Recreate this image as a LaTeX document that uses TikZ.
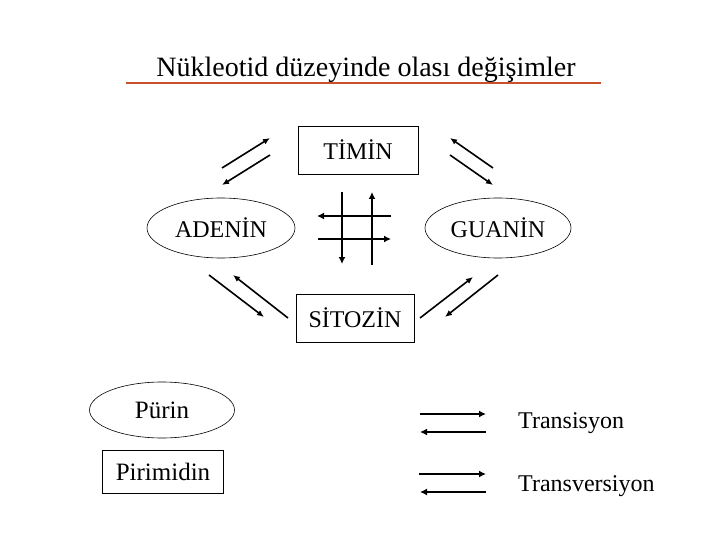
\documentclass[tikz,border=0pt]{standalone}
\usepackage{fontspec}
\setmainfont{Liberation Serif}
\usetikzlibrary{arrows.meta,shapes.geometric}
\definecolor{ruleline}{HTML}{C8502A}

\begin{document}
\begin{tikzpicture}[x=1pt, y=-1pt, font=\fontsize{24}{27}\selectfont,
          box/.style={draw, line width=0.8pt, inner sep=0pt, minimum width=120, minimum height=48},
          oval/.style={draw, ellipse, line width=0.6pt, inner sep=0pt, minimum width=148, minimum height=60},
          arr/.style={-{Latex[length=7pt,width=6pt]}, line width=1.6pt},
          bold/.style={-{Latex[length=7pt,width=7pt]}, line width=2.6pt}]
        \useasboundingbox (0,0) rectangle (720,540);
        % title with its rule
        \node[anchor=base, font=\fontsize{28}{32}\selectfont] (title) at (366,77)
             {Nükleotid düzeyinde olası değişimler};
        \coordinate (r1) at (126,83);
        \coordinate (r2) at (601,83);
        \draw[ruleline, line width=1.2pt] (r1) -- (r2);
        % the four bases
        \node[box] (tim) at (358,150) {TİMİN};
        \node[box, minimum width=118] (sit) at (355,318) {SİTOZİN};
        \node[oval] (ade) at (221,228) {ADENİN};
        \node[oval, minimum width=146] (gua) at (498,228) {GUANİN};
        % paired diagonal arrows between the bases
        \coordinate (a1) at (222,168); \coordinate (a2) at (270,138);
        \coordinate (a3) at (270,155); \coordinate (a4) at (222,185);
        \coordinate (b1) at (493,168); \coordinate (b2) at (450,138);
        \coordinate (b3) at (450,155); \coordinate (b4) at (493,185);
        \coordinate (c1) at (209,275); \coordinate (c2) at (264,317);
        \coordinate (c3) at (288,318); \coordinate (c4) at (233,275);
        \coordinate (d1) at (420,318); \coordinate (d2) at (473,277);
        \coordinate (d3) at (498,275); \coordinate (d4) at (445,317);
        \foreach \p/\q in {a1/a2,a3/a4,b1/b2,b3/b4,c1/c2,c3/c4,d1/d2,d3/d4}
          \draw[arr] (\p) -- (\q);
        % crossing arrows in the middle
        \coordinate (v1) at (342,192); \coordinate (v2) at (342,264);
        \coordinate (v3) at (372,265); \coordinate (v4) at (372,192);
        \coordinate (h1) at (391,216); \coordinate (h2) at (317,216);
        \coordinate (h3) at (318,239); \coordinate (h4) at (391,239);
        \foreach \p/\q in {v1/v2,v3/v4,h1/h2,h3/h4}
          \draw[bold] (\p) -- (\q);
        % legend
        \node[oval, minimum width=145, minimum height=56, font=\fontsize{25}{28}\selectfont]
             (pur) at (162,410) {Pürin};
        \node[box, minimum width=121, minimum height=43, font=\fontsize{25}{28}\selectfont]
             (pir) at (163,472) {Pirimidin};
        \coordinate (l1) at (420,414); \coordinate (l2) at (486,414);
        \coordinate (l3) at (486,432); \coordinate (l4) at (420,432);
        \coordinate (l5) at (419,474); \coordinate (l6) at (486,474);
        \coordinate (l7) at (486,492); \coordinate (l8) at (420,492);
        \foreach \p/\q in {l1/l2,l3/l4,l5/l6,l7/l8}
          \draw[bold] (\p) -- (\q);
        \node[anchor=base west, inner sep=0pt] (tsi) at (518,428) {Transisyon};
        \node[anchor=base west, inner sep=0pt] (tve) at (518,491) {Transversiyon};
      \end{tikzpicture}
\end{document}
